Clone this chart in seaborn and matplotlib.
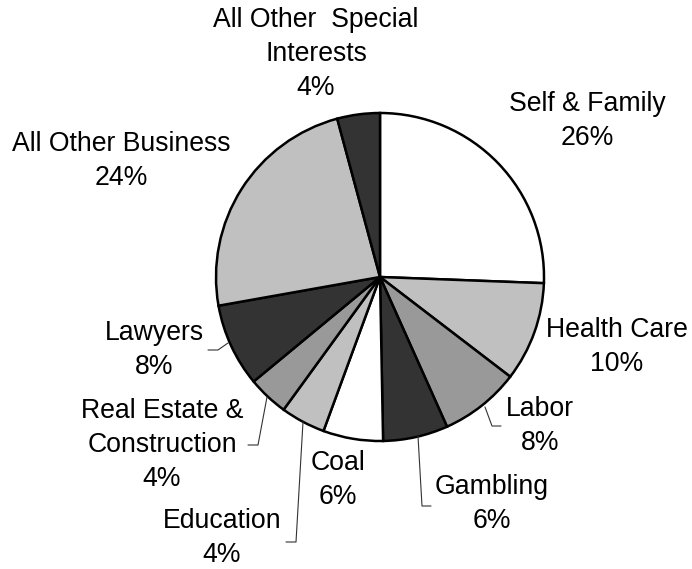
import matplotlib
matplotlib.use("Agg")
import matplotlib.pyplot as plt
import seaborn as sns

sns.set_theme(style="white")
plt.rcParams['font.family'] = ['Liberation Sans', 'DejaVu Sans']

categories = ["Self & Family", "Health Care", "Labor", "Gambling", "Coal",
              "Education", "Real Estate &\nConstruction", "Lawyers",
              "All Other Business", "All Other  Special\nInterests"]
values = [25.6, 9.8, 7.9, 6.4, 5.9, 4.4, 4.0, 8.2, 23.6, 4.2]
pct_labels = ["26%", "10%", "8%", "6%", "6%", "4%", "4%", "8%", "24%", "4%"]
colors = ["#ffffff", "#c0c0c0", "#999999", "#333333", "#ffffff",
          "#c0c0c0", "#999999", "#333333", "#c0c0c0", "#333333"]

W, H = 692, 569
fig = plt.figure(figsize=(W / 100, H / 100), dpi=100)
ax = fig.add_axes([0, 0, 1, 1])

def Y(y):
    return H - y

cx, cy, r = 380, 277, 164
ax.pie(values, colors=colors, startangle=90, counterclock=False,
       center=(cx, Y(cy)), radius=r, frame=True,
       wedgeprops=dict(edgecolor="black", linewidth=1.8))
ax.set_xlim(0, W)
ax.set_ylim(0, H)
ax.axis("off")

# label block centers (image pixel coords)
label_pos = [(587, 121), (617, 347), (540, 426), (492, 504), (338, 480),
             (222, 538), (162, 445), (154, 350), (121, 161), (316, 54)]
for name, pct, (x, y) in zip(categories, pct_labels, label_pos):
    ax.text(x, Y(y), f"{name}\n{pct}", ha="center", va="center",
            fontsize=19.2, linespacing=1.42, color="black")

leaders = [
    [(485, 407), (492, 426), (501, 426)],
    [(418, 436), (422, 506), (431, 506)],
    [(303, 422), (296, 542), (286, 542)],
    [(267, 397), (258, 445), (248, 445)],
    [(228, 343), (218, 350), (208, 350)],
]
for pts in leaders:
    xs = [p[0] for p in pts]
    ys = [Y(p[1]) for p in pts]
    ax.plot(xs, ys, color="#333333", linewidth=0.8)

fig.savefig("out.png", dpi=100)
